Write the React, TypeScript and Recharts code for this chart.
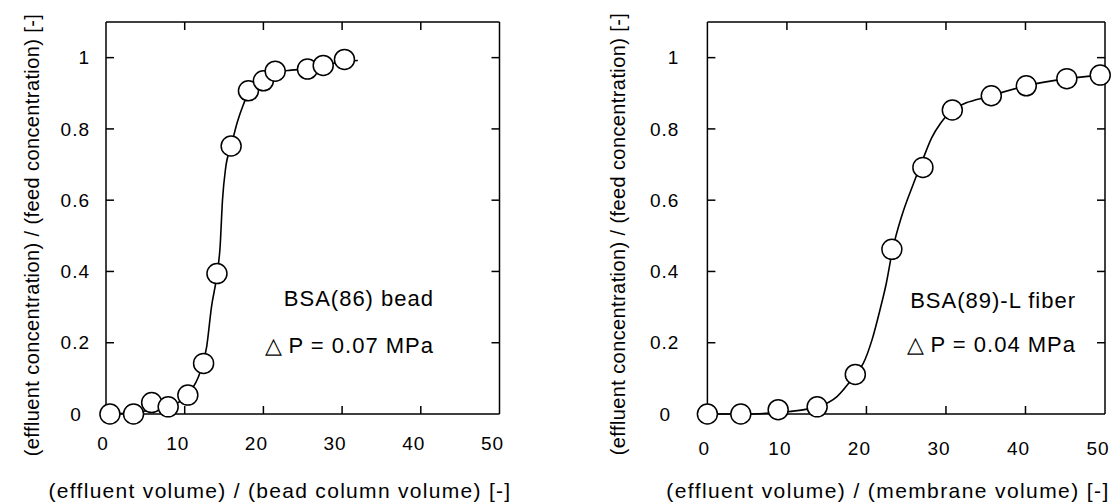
import { ComposedChart, Line, Scatter, XAxis, YAxis } from "recharts";

const FONT = "'Liberation Sans', Arial, Helvetica, sans-serif";

const X_MAX = 50;
const Y_MAX = 1.1;
const xTicks = [0, 10, 20, 30, 40, 50];
const innerXTicks = [10, 20, 30, 40];
const yTicks = [0, 0.2, 0.4, 0.6, 0.8, 1];
const innerYTicks = [0.2, 0.4, 0.6, 0.8, 1];

const yTitle = "(effluent concentration) / (feed concentration)  [-]";
const beadXTitle = "(effluent volume) / (bead column volume)  [-]";
const fiberXTitle = "(effluent volume) / (membrane volume)  [-]";

// bead column: measured points
const beadVolume = [0.5, 3.5, 5.8, 7.9, 10.4, 12.4, 14.1, 15.9, 18.1, 20.0, 21.5, 25.6, 27.6, 30.3];
const beadConc = [0, 0, 0.032, 0.02, 0.053, 0.142, 0.394, 0.752, 0.907, 0.935, 0.962, 0.968, 0.978, 0.995];
// bead column: fitted curve
const beadFitVolume = [0, 3, 6, 8.5, 10.4, 12, 12.8, 13.4, 14.1, 14.5, 14.8, 15.2, 15.9, 16.7, 17.4, 18.1, 20, 21.5, 23.5, 25.6, 27.6, 30.3, 32];
const beadFitConc = [0, 0.003, 0.012, 0.025, 0.055, 0.12, 0.19, 0.3, 0.39, 0.47, 0.6, 0.69, 0.752, 0.82, 0.865, 0.9, 0.935, 0.958, 0.965, 0.968, 0.977, 0.99, 0.992];

// membrane fiber: measured points
const fiberVolume = [0, 4.2, 8.9, 13.8, 18.6, 23.2, 27.1, 30.8, 35.7, 40.1, 45.2, 49.4];
const fiberConc = [0, 0, 0.012, 0.02, 0.111, 0.462, 0.692, 0.853, 0.893, 0.921, 0.941, 0.951];
// membrane fiber: fitted curve
const fiberFitVolume = [0, 4.2, 8.9, 13.8, 16.3, 18.6, 19.6, 20.7, 21.7, 22.5, 23.3, 24.5, 25.8, 27.1, 28.2, 29.3, 30.8, 35.7, 40.1, 45.2, 49.4];
const fiberFitConc = [0, 0, 0.004, 0.02, 0.049, 0.111, 0.142, 0.208, 0.292, 0.367, 0.462, 0.56, 0.64, 0.715, 0.775, 0.815, 0.852, 0.893, 0.921, 0.941, 0.951];

type Pt = { x: number; y: number };

function zip(xs: number[], ys: number[]): Pt[] {
  return xs.map((x, i) => ({ x, y: ys[i] }));
}

// positions of the inward frame ticks
const bottomMarks = innerXTicks.map((t) => ({ x: t, y: 0 }));
const topMarks = innerXTicks.map((t) => ({ x: t, y: Y_MAX }));
const leftMarks = innerYTicks.map((t) => ({ x: 0, y: t }));
const rightMarks = innerYTicks.map((t) => ({ x: X_MAX, y: t }));

const TICK_LEN = 8;

function BottomMark({ cx, cy }: any) {
  if (cx == null || cy == null) return null;
  return <line x1={cx} y1={cy} x2={cx} y2={cy - TICK_LEN} stroke="#000" strokeWidth={1.5} />;
}
function TopMark({ cx, cy }: any) {
  if (cx == null || cy == null) return null;
  return <line x1={cx} y1={cy} x2={cx} y2={cy + TICK_LEN} stroke="#000" strokeWidth={1.5} />;
}
function LeftMark({ cx, cy }: any) {
  if (cx == null || cy == null) return null;
  return <line x1={cx} y1={cy} x2={cx + TICK_LEN} y2={cy} stroke="#000" strokeWidth={1.5} />;
}
function RightMark({ cx, cy }: any) {
  if (cx == null || cy == null) return null;
  return <line x1={cx} y1={cy} x2={cx - TICK_LEN} y2={cy} stroke="#000" strokeWidth={1.5} />;
}

function XTick(p: any) {
  const v = p.payload.value;
  return (
    <text
      x={Number(p.x) + (v === 0 ? -3 : -7)}
      y={p.y}
      dy="0.71em"
      textAnchor="middle"
      fontSize={19}
      letterSpacing={1}
      fill="#000"
      fontFamily={FONT}
    >
      {v}
    </text>
  );
}

function YTick(p: any) {
  const v = p.payload.value;
  const zero = v === 0;
  return (
    <text
      x={zero ? Number(p.x) - 14 : p.x}
      y={p.y}
      dy="0.355em"
      textAnchor={zero ? "middle" : "end"}
      fontSize={19}
      letterSpacing={1}
      fill="#000"
      fontFamily={FONT}
    >
      {v}
    </text>
  );
}

function Circle(props: any) {
  const { cx, cy } = props;
  if (cx == null || cy == null) return null;
  return <circle cx={cx} cy={cy} r={10} fill="#fff" stroke="#000" strokeWidth={1.5} />;
}

type PanelProps = {
  width: number;
  left: number;
  right: number;
  yLabelGap: number;
  xLabelGap: number;
  points: Pt[];
  fit: Pt[];
};

function Panel({ width, left, right, yLabelGap, xLabelGap, points, fit }: PanelProps) {
  const axisStroke = { stroke: "#000", strokeWidth: 1.5 };
  return (
    <ComposedChart
      width={width}
      height={503}
      margin={{ top: 22, right, bottom: 49, left: left - 60 }}
    >
      <XAxis
        xAxisId="x"
        dataKey="x"
        type="number"
        domain={[0, X_MAX]}
        ticks={xTicks}
        interval={0}
        height={40}
        tickLine={false}
        tickSize={0}
        tickMargin={xLabelGap}
        axisLine={axisStroke}
        tick={<XTick />}
      />
      <XAxis
        xAxisId="xt"
        type="number"
        domain={[0, X_MAX]}
        orientation="top"
        mirror
        tick={false}
        tickLine={false}
        axisLine={axisStroke}
      />
      <YAxis
        yAxisId="y"
        dataKey="y"
        type="number"
        domain={[0, Y_MAX]}
        ticks={yTicks}
        interval={0}
        width={60}
        tickLine={false}
        tickSize={0}
        tickMargin={yLabelGap}
        axisLine={axisStroke}
        tick={<YTick />}
      />
      <YAxis
        yAxisId="yr"
        type="number"
        domain={[0, Y_MAX]}
        orientation="right"
        mirror
        tick={false}
        tickLine={false}
        axisLine={axisStroke}
      />
      <Scatter xAxisId="x" yAxisId="y" data={bottomMarks} dataKey="y" shape={<BottomMark />} isAnimationActive={false} />
      <Scatter xAxisId="x" yAxisId="y" data={topMarks} dataKey="y" shape={<TopMark />} isAnimationActive={false} />
      <Scatter xAxisId="x" yAxisId="y" data={leftMarks} dataKey="y" shape={<LeftMark />} isAnimationActive={false} />
      <Scatter xAxisId="x" yAxisId="y" data={rightMarks} dataKey="y" shape={<RightMark />} isAnimationActive={false} />
      <Line
        xAxisId="x"
        yAxisId="y"
        data={fit}
        dataKey="y"
        type="monotone"
        stroke="#000"
        strokeWidth={1.6}
        dot={false}
        activeDot={false}
        isAnimationActive={false}
      />
      <Scatter
        xAxisId="x"
        yAxisId="y"
        data={points}
        dataKey="y"
        shape={<Circle />}
        isAnimationActive={false}
      />
    </ComposedChart>
  );
}

export default function App() {
  const textStyle = { fontFamily: FONT, fill: "#000" };
  return (
    <div
      style={{
        position: "absolute",
        left: 0,
        top: 0,
        width: 1117,
        height: 503,
        background: "#fff",
        overflow: "hidden",
      }}
    >
      <div style={{ position: "absolute", left: 0, top: 0 }}>
        <Panel
          width={520}
          left={106}
          right={20.5}
          yLabelGap={16}
          xLabelGap={23}
          points={zip(beadVolume, beadConc)}
          fit={zip(beadFitVolume, beadFitConc)}
        />
      </div>
      <div style={{ position: "absolute", left: 560, top: 0 }}>
        <Panel
          width={557}
          left={147.4}
          right={12}
          yLabelGap={28}
          xLabelGap={28}
          points={zip(fiberVolume, fiberConc)}
          fit={zip(fiberFitVolume, fiberFitConc)}
        />
      </div>
      <svg
        width={1117}
        height={503}
        style={{ position: "absolute", left: 0, top: 0, pointerEvents: "none" }}
      >
        <text
          x={39}
          y={235}
          transform="rotate(-90 39 235)"
          textAnchor="middle"
          fontSize={20}
          letterSpacing={0.4}
          style={textStyle}
        >
          {yTitle}
        </text>
        <text
          x={625}
          y={234}
          transform="rotate(-90 625 234)"
          textAnchor="middle"
          fontSize={20}
          letterSpacing={0.4}
          style={textStyle}
        >
          {yTitle}
        </text>
        <text x={280} y={498} textAnchor="middle" fontSize={21} letterSpacing={1.3} style={textStyle}>
          {beadXTitle}
        </text>
        <text x={888} y={498} textAnchor="middle" fontSize={21} letterSpacing={1.4} style={textStyle}>
          {fiberXTitle}
        </text>
        <text x={434} y={306} textAnchor="end" fontSize={22} letterSpacing={1} style={textStyle}>
          BSA(86) bead
        </text>
        <text x={434} y={353} textAnchor="end" fontSize={22} letterSpacing={1} style={textStyle}>
          {"△\u2009P = 0.07 MPa"}
        </text>
        <text x={1076} y={308} textAnchor="end" fontSize={22} letterSpacing={1} style={textStyle}>
          BSA(89)-L fiber
        </text>
        <text x={1076} y={352} textAnchor="end" fontSize={22} letterSpacing={1} style={textStyle}>
          {"△\u2009P = 0.04 MPa"}
        </text>
      </svg>
    </div>
  );
}
